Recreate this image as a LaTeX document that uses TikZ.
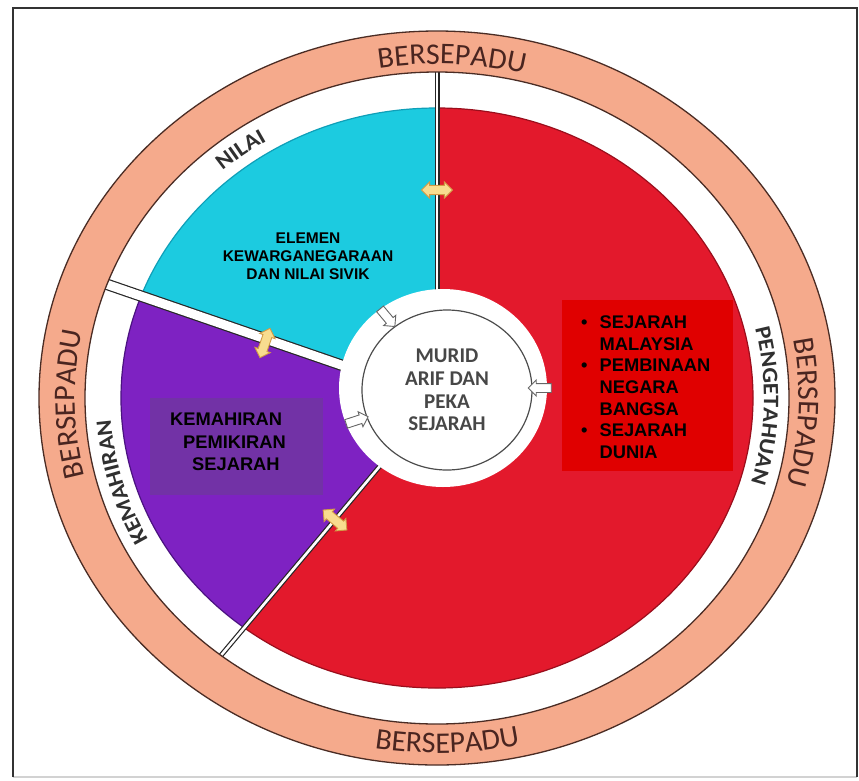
\documentclass[tikz,border=0pt]{standalone}
\usepackage{fontspec}
\setmainfont{Liberation Sans}
\newfontfamily\carl{Carlito}
\newfontfamily\carlw[FakeStretch=1.1]{Carlito}
\usetikzlibrary{decorations.text,shapes.geometric,shapes.arrows}
\definecolor{salmon}{HTML}{F5AA8C}
\definecolor{ringline}{HTML}{4A2C24}
\definecolor{berse}{HTML}{4A2520}
\definecolor{cyanS}{HTML}{1CCBE0}
\definecolor{cyanE}{HTML}{0F9FB8}
\definecolor{purS}{HTML}{7E22C2}
\definecolor{purE}{HTML}{4B1280}
\definecolor{purBox}{HTML}{7232A6}
\definecolor{redS}{HTML}{E3192C}
\definecolor{redE}{HTML}{9A0E1C}
\definecolor{redBox}{HTML}{E00000}
\definecolor{arrY}{HTML}{F8DC8F}
\definecolor{arrE}{HTML}{D19A45}
\definecolor{labgray}{HTML}{303030}
\newcommand\bersfont{\carl\fontsize{30}{30}\selectfont}
\newcommand\bandfont{\carlw\bfseries\fontsize{22}{22}\selectfont}
\tikzset{
  divthin/.style={draw=black!85, double=white, double distance=2.6pt, line width=1.2pt},
  divwide/.style={draw=black!85, double=white, double distance=9pt, line width=1.2pt},
  yarr/.style={double arrow, draw=arrE, fill=arrY, line width=0.9pt, minimum height=31pt, inner sep=4.2pt, double arrow head extend=3.5pt},
  warr/.style={single arrow, draw=black!60, fill=white, line width=0.9pt, minimum height=23pt, inner sep=4pt, single arrow head extend=3.5pt},
  ringtext/.style={decorate, decoration={text along path, text align=center, text color=berse, text={|\bersfont|#1}}},
  bandtext/.style={decorate, decoration={text along path, text align=center, text color=labgray, text={|\bandfont|#1}}},
  inbold/.style={font=\fontsize{18.3}{21.7}\selectfont\bfseries, inner sep=0pt}
}
\begin{document}
\begin{tikzpicture}[x=1pt,y=1pt]
\useasboundingbox (0,0) rectangle (859,-780);
\fill[white] (0,0) rectangle (859,-780);
% frame
\draw[line width=1.2pt, gray!35] (13,-777) -- (857,-777);
\draw[line width=2.4pt, black!80] (13,-777) -- (13,-8) -- (857,-8) -- (857,-777);

\begin{scope}[shift={(437,-398)}]
  % salmon ring
  \fill[salmon] (0,0) ellipse[x radius=398pt, y radius=367pt];
  \fill[white] (0,0) ellipse[x radius=352pt, y radius=326pt];
  % sectors
  \begin{scope}
    \clip (0,0) -- (90:600pt) -- (125:600pt) -- (161:600pt) -- cycle;
    \fill[cyanS] (0,0) ellipse[x radius=316pt, y radius=290pt];
    \draw[cyanE, line width=1.2pt] (0,0) ellipse[x radius=316pt, y radius=290pt];
  \end{scope}
  \begin{scope}
    \clip (0,0) -- (161:600pt) -- (195:600pt) -- (230:600pt) -- cycle;
    \fill[purS] (0,0) ellipse[x radius=316pt, y radius=290pt];
    \draw[purE, line width=1.2pt] (0,0) ellipse[x radius=316pt, y radius=290pt];
  \end{scope}
  \begin{scope}
    \clip (0,0) -- (230:600pt) -- (270:600pt) -- (315:600pt) -- (360:600pt) -- (405:600pt) -- (450:600pt) -- cycle;
    \fill[redS] (0,0) ellipse[x radius=316pt, y radius=290pt];
    \draw[redE, line width=1.2pt] (0,0) ellipse[x radius=316pt, y radius=290pt];
  \end{scope}
  % dividers
  \begin{scope}
    \clip (0,0) ellipse[x radius=352pt, y radius=326pt];
    \draw[divthin] (0,0) -- (90:400pt);
    \draw[divwide] (0,0) -- (161:400pt);
    \draw[divthin] (0,0) -- (230:400pt);
  \end{scope}
  % ring outlines
  \draw[ringline, line width=1.3pt] (0,0) ellipse[x radius=398pt, y radius=367pt];
  \draw[ringline, line width=1.3pt] (0,0) ellipse[x radius=352pt, y radius=326pt];
  % central disc
  \fill[white] (6,10) ellipse[x radius=104pt, y radius=99pt];
  \node[draw=black!70, line width=1.2pt, ellipse, minimum width=170pt, minimum height=160pt, inner sep=0pt, align=center, text=black!72, font=\carl\bfseries\fontsize{21}{22.7}\selectfont] (murid) at (10,8) {MURID\\ARIF DAN\\PEKA\\SEJARAH};
  % yellow double arrows
  \node[yarr] (y1) at (0,208) {};
  \node[yarr, rotate=71] (y2) at (-172,55) {};
  \node[yarr, rotate=140] (y3) at (-102,-122) {};
  % white arrows
  \node[warr, rotate=-50] (w1) at (-51,82) {};
  \node[warr, rotate=180] (w2) at (105,10) {};
  \node[warr, rotate=18] (w3) at (-82,-23) {};
  % ring texts
  \path[ringtext=BERSEPADU] (117.6:362pt and 334pt) arc[start angle=117.6, end angle=57.6, x radius=362pt, y radius=334pt];
  \path[ringtext=BERSEPADU] (211:362pt and 334pt) arc[start angle=211, end angle=151, x radius=362pt, y radius=334pt];
  \path[ringtext=BERSEPADU] (27.6:362pt and 334pt) arc[start angle=27.6, end angle=-32.4, x radius=362pt, y radius=334pt];
  \path[ringtext=BERSEPADU] (241.6:385pt and 355pt) arc[start angle=241.6, end angle=301.6, x radius=385pt, y radius=355pt];
  % band texts
  \path[bandtext=NILAI] (146.4:327pt and 301pt) arc[start angle=146.4, end angle=106.4, x radius=327pt, y radius=301pt];
  \path[bandtext=KEMAHIRAN] (225.8:327pt and 301pt) arc[start angle=225.8, end angle=165.8, x radius=327pt, y radius=301pt];
  \path[bandtext=PENGETAHUAN] (38.6:327pt and 301pt) arc[start angle=38.6, end angle=-41.4, x radius=327pt, y radius=301pt];
\end{scope}

% sector texts
\node[font=\fontsize{15.5}{18}\selectfont\bfseries, align=center, inner sep=0pt] (elemen) at (308,-256) {ELEMEN\\KEWARGANEGARAAN\\DAN NILAI SIVIK};
\fill[purBox] (150,-398) rectangle (323,-495);
\node[inbold, anchor=base west] (kem1) at (170,-425) {KEMAHIRAN};
\node[inbold, anchor=base west] (kem2) at (183,-448) {PEMIKIRAN};
\node[inbold, anchor=base west] (kem3) at (192,-470) {SEJARAH};
\fill[redBox] (562,-300) rectangle (733,-471);
\node[inbold, anchor=north west] (peng) at (581,-313) {\begin{tabular}{@{}l@{\hspace{12pt}}l@{}}\textbullet & SEJARAH\\ & MALAYSIA\\ \textbullet & PEMBINAAN\\ & NEGARA\\ & BANGSA\\ \textbullet & SEJARAH\\ & DUNIA\end{tabular}};
\end{tikzpicture}
\end{document}
